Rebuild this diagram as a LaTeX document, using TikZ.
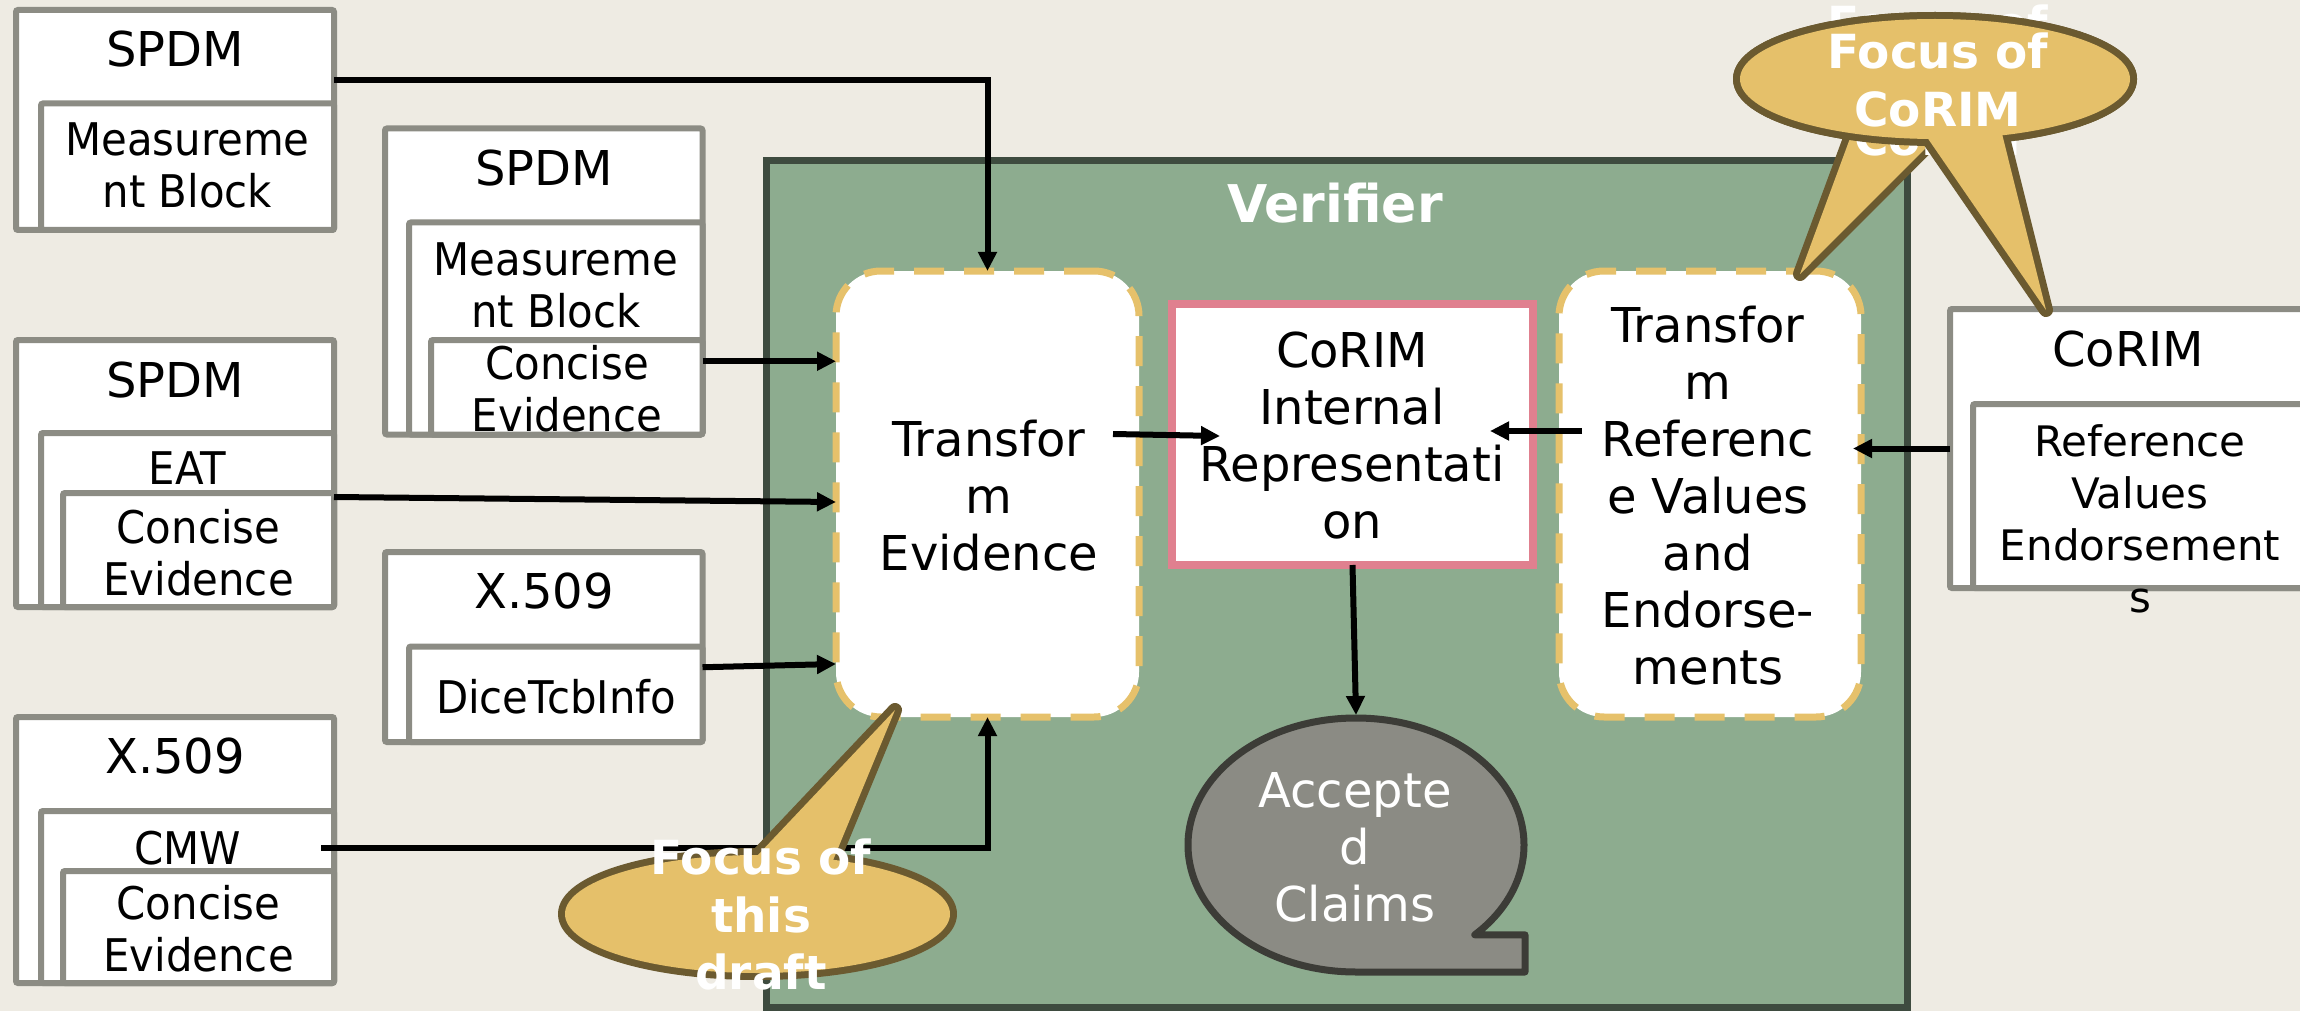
\documentclass[tikz,border=0pt]{standalone}
\usepackage{fontspec}
\setmainfont{DejaVu Sans}
\newfontfamily\condf{DejaVu Sans}[FakeStretch=0.93]
\usetikzlibrary{arrows.meta}
\definecolor{bg}{HTML}{EEEBE3}
\definecolor{boxgray}{HTML}{8C8C84}
\definecolor{vfill}{HTML}{8DAC8F}
\definecolor{vstroke}{HTML}{3E4B3F}
\definecolor{gold}{HTML}{E6C16B}
\definecolor{pinkb}{HTML}{E0808F}
\definecolor{cfill}{HTML}{E5C06A}
\definecolor{cstroke}{HTML}{6B5A30}
\definecolor{accfill}{HTML}{8B8B84}
\definecolor{accstroke}{HTML}{3C3C37}
\tikzset{
  gbox/.style={draw=boxgray, line width=6pt, fill=white, rounded corners=2pt, inner sep=0pt, outer sep=0pt},
  tbox/.style={draw=gold, line width=7pt, dash pattern=on 30pt off 20pt, fill=white, rounded corners=45pt, inner sep=0pt, outer sep=0pt},
  ttl/.style={inner sep=0pt, align=center, font=\fontsize{48}{56}\selectfont},
  lbl/.style={inner sep=0pt, align=center, font=\condf\fontsize{45}{52}\selectfont},
  lblr/.style={inner sep=0pt, align=center, font=\fontsize{42}{52}\selectfont},
  big/.style={inner sep=0pt, align=center, font=\fontsize{48}{57}\selectfont},
  boldw/.style={inner sep=0pt, align=center, text=white, font=\bfseries\fontsize{47}{57.5}\selectfont},
  arr/.style={line width=6pt, -{Triangle[length=19pt,width=18pt]}},
  cstr/.style={draw=cstroke, line width=14pt, line join=round},
}
\begin{document}
\begin{tikzpicture}[x=1pt,y=-1pt]
\useasboundingbox (0,0) rectangle (2300,1011);
\clip (0,0) rectangle (2300,1011);
\fill[bg] (0,0) rectangle (2300,1011);

% Verifier
\node[draw=vstroke, fill=vfill, line width=7pt, minimum width=1141pt, minimum height=846pt, inner sep=0pt, outer sep=0pt] (verifier) at (1336.5,584) {};

% left column boxes
\node[gbox, minimum width=318pt, minimum height=220pt] (spdmA) at (175,120) {};
\node[gbox, minimum width=293pt, minimum height=126.5pt] (spdmAmb) at (187.5,166.75) {};

\node[gbox, minimum width=318pt, minimum height=267pt] (spdmC) at (175,473.5) {};
\node[gbox, minimum width=293pt, minimum height=174pt] (spdmCeat) at (187.5,520) {};
\node[gbox, minimum width=271pt, minimum height=114pt] (spdmCce) at (198.5,550) {};

\node[gbox, minimum width=318pt, minimum height=266pt] (x509B) at (175,850) {};
\node[gbox, minimum width=293pt, minimum height=172pt] (x509Bcmw) at (187.5,897) {};
\node[gbox, minimum width=271pt, minimum height=112pt] (x509Bce) at (198.5,927) {};

% middle column boxes
\node[gbox, minimum width=317.5pt, minimum height=306pt] (spdmB) at (543.75,281.5) {};
\node[gbox, minimum width=293.5pt, minimum height=212pt] (spdmBmb) at (555.75,328.5) {};
\node[gbox, minimum width=271.5pt, minimum height=94.5pt] (spdmBce) at (566.75,387.25) {};

\node[gbox, minimum width=317.5pt, minimum height=190pt] (x509A) at (543.75,647) {};
\node[gbox, minimum width=293.5pt, minimum height=95.5pt] (x509Adice) at (555.75,694.25) {};

% right CoRIM box
\node[gbox, minimum width=356pt, minimum height=279pt] (corim) at (2128,448.5) {};
\node[gbox, minimum width=333pt, minimum height=184pt] (corimin) at (2139.5,496) {};

% verifier inner
\node[tbox, minimum width=303pt, minimum height=446pt] (tev) at (987.5,494) {};
\node[tbox, minimum width=302pt, minimum height=446pt] (tref) at (1710,494) {};
\node[draw=pinkb, line width=8pt, fill=white, minimum width=361pt, minimum height=261pt, inner sep=0pt, outer sep=0pt] (cint) at (1352.5,434.5) {};

\node[minimum width=335pt, minimum height=254pt, inner sep=0pt, outer sep=0pt] (acc) at (1356,845) {};
\draw[draw=accstroke, fill=accfill, line width=7pt, line join=round]
  (1525,972) -- (1356,972) arc[start angle=270, end angle=-45, x radius=168pt, y radius=127pt] -- (1525,934.8) -- cycle;

% connectors
\coordinate (s1) at ([yshift=40pt]spdmA.east);
\draw[arr] (s1) -| (tev.north);
\coordinate (s2) at ([yshift=26pt]spdmBce.east);
\draw[arr] (s2) -- (tev.west |- s2);
\draw[arr] ([yshift=53pt]spdmCce.east) -- ([yshift=-8pt]tev.west);
\draw[arr] ([yshift=27pt]x509Adice.east) -- ([yshift=-170pt]tev.west);
\coordinate (s5) at ([xshift=133.5pt,yshift=49pt]x509Bcmw.center);
\draw[arr] (s5) -| (tev.south);
\draw[arr] ([xshift=-26pt,yshift=60pt]tev.east) -- ([xshift=48pt,yshift=-1.5pt]cint.west);
\draw[arr] ([xshift=23pt,yshift=63pt]tref.west) -- ([xshift=-43pt,yshift=3.5pt]cint.east);
\draw[arr] (corim.west) -- ([xshift=-8pt,yshift=45.5pt]tref.east);
\draw[arr] (cint.south) -- ([yshift=3pt]acc.north);

% texts
\node[ttl] (tA) at (175,49.5) {SPDM};
\node[lbl] (tAmb) at (187.5,165.5) {Measureme\\nt Block};
\node[ttl] (tB) at (544,168.5) {SPDM};
\node[lbl] (tBmb) at (556,285) {Measureme\\nt Block};
\node[lbl] (tBce) at (567,388.5) {Concise\\Evidence};
\node[ttl] (tC) at (175,380) {SPDM};
\node[lbl] (tCeat) at (187.5,468.5) {EAT};
\node[lbl] (tCce) at (198.5,552.5) {Concise\\Evidence};
\node[ttl] (tX1) at (544,591.5) {X.509};
\node[lbl] (tdice) at (556,697) {DiceTcbInfo};
\node[ttl] (tX2) at (175,756.5) {X.509};
\node[lbl] (tcmw) at (187.5,848) {CMW};
\node[lbl] (tXce) at (198.5,928.5) {Concise\\Evidence};
\node[ttl] (tcorim) at (2128,349.5) {CoRIM};
\node[lblr] (trve) at (2140,518.5) {Reference\\Values\\Endorsement\\s};

\node[inner sep=0pt, text=white, font=\bfseries\fontsize{52}{60}\selectfont] (tver) at (1335,203) {Verifier};
\node[big] (ttev) at (989,496) {Transfor\\m\\Evidence};
\node[big] (tcint) at (1352,435.5) {CoRIM\\Internal\\Representati\\on};
\node[big] (ttref) at (1708,496) {Transfor\\m\\Referenc\\e Values\\and\\Endorse-\\ments};
\node[big, text=white] (tacc) at (1355,847) {Accepte\\d\\Claims};

% Focus of CoRIM callouts
\draw[cstr] (1935,79) ellipse[x radius=195pt, y radius=60pt];
\draw[cstr] (1800,274) -- (1858.6,115) -- (1958.7,115) -- cycle;
\fill[cfill] (1935,79) ellipse[x radius=195pt, y radius=60pt];
\fill[cfill] (1800,274) -- (1858.6,115) -- (1958.7,115) -- cycle;
\node[boldw] (focB) at (1938,80.5) {Focus of\\\strut\\CoRIM};
\draw[cstr] (1935,79) ellipse[x radius=195pt, y radius=60pt];
\draw[cstr] (2046,310) -- (1911.7,115) -- (1997.3,115) -- cycle;
\fill[cfill] (1935,79) ellipse[x radius=195pt, y radius=60pt];
\fill[cfill] (2046,310) -- (1911.7,115) -- (1997.3,115) -- cycle;
\node[boldw] (focA) at (1938,80) {Focus of\\CoRIM};

% Focus of this draft callout
\draw[cstr] (757.5,914) ellipse[x radius=192.5pt, y radius=59pt];
\draw[cstr] (895,710) -- (739,875) -- (827,875) -- cycle;
\fill[cfill] (757.5,914) ellipse[x radius=192.5pt, y radius=59pt];
\fill[cfill] (895,710) -- (739,875) -- (827,875) -- cycle;
\node[boldw] (focD) at (761,914.7) {Focus of\\this\\draft};
\end{tikzpicture}
\end{document}
